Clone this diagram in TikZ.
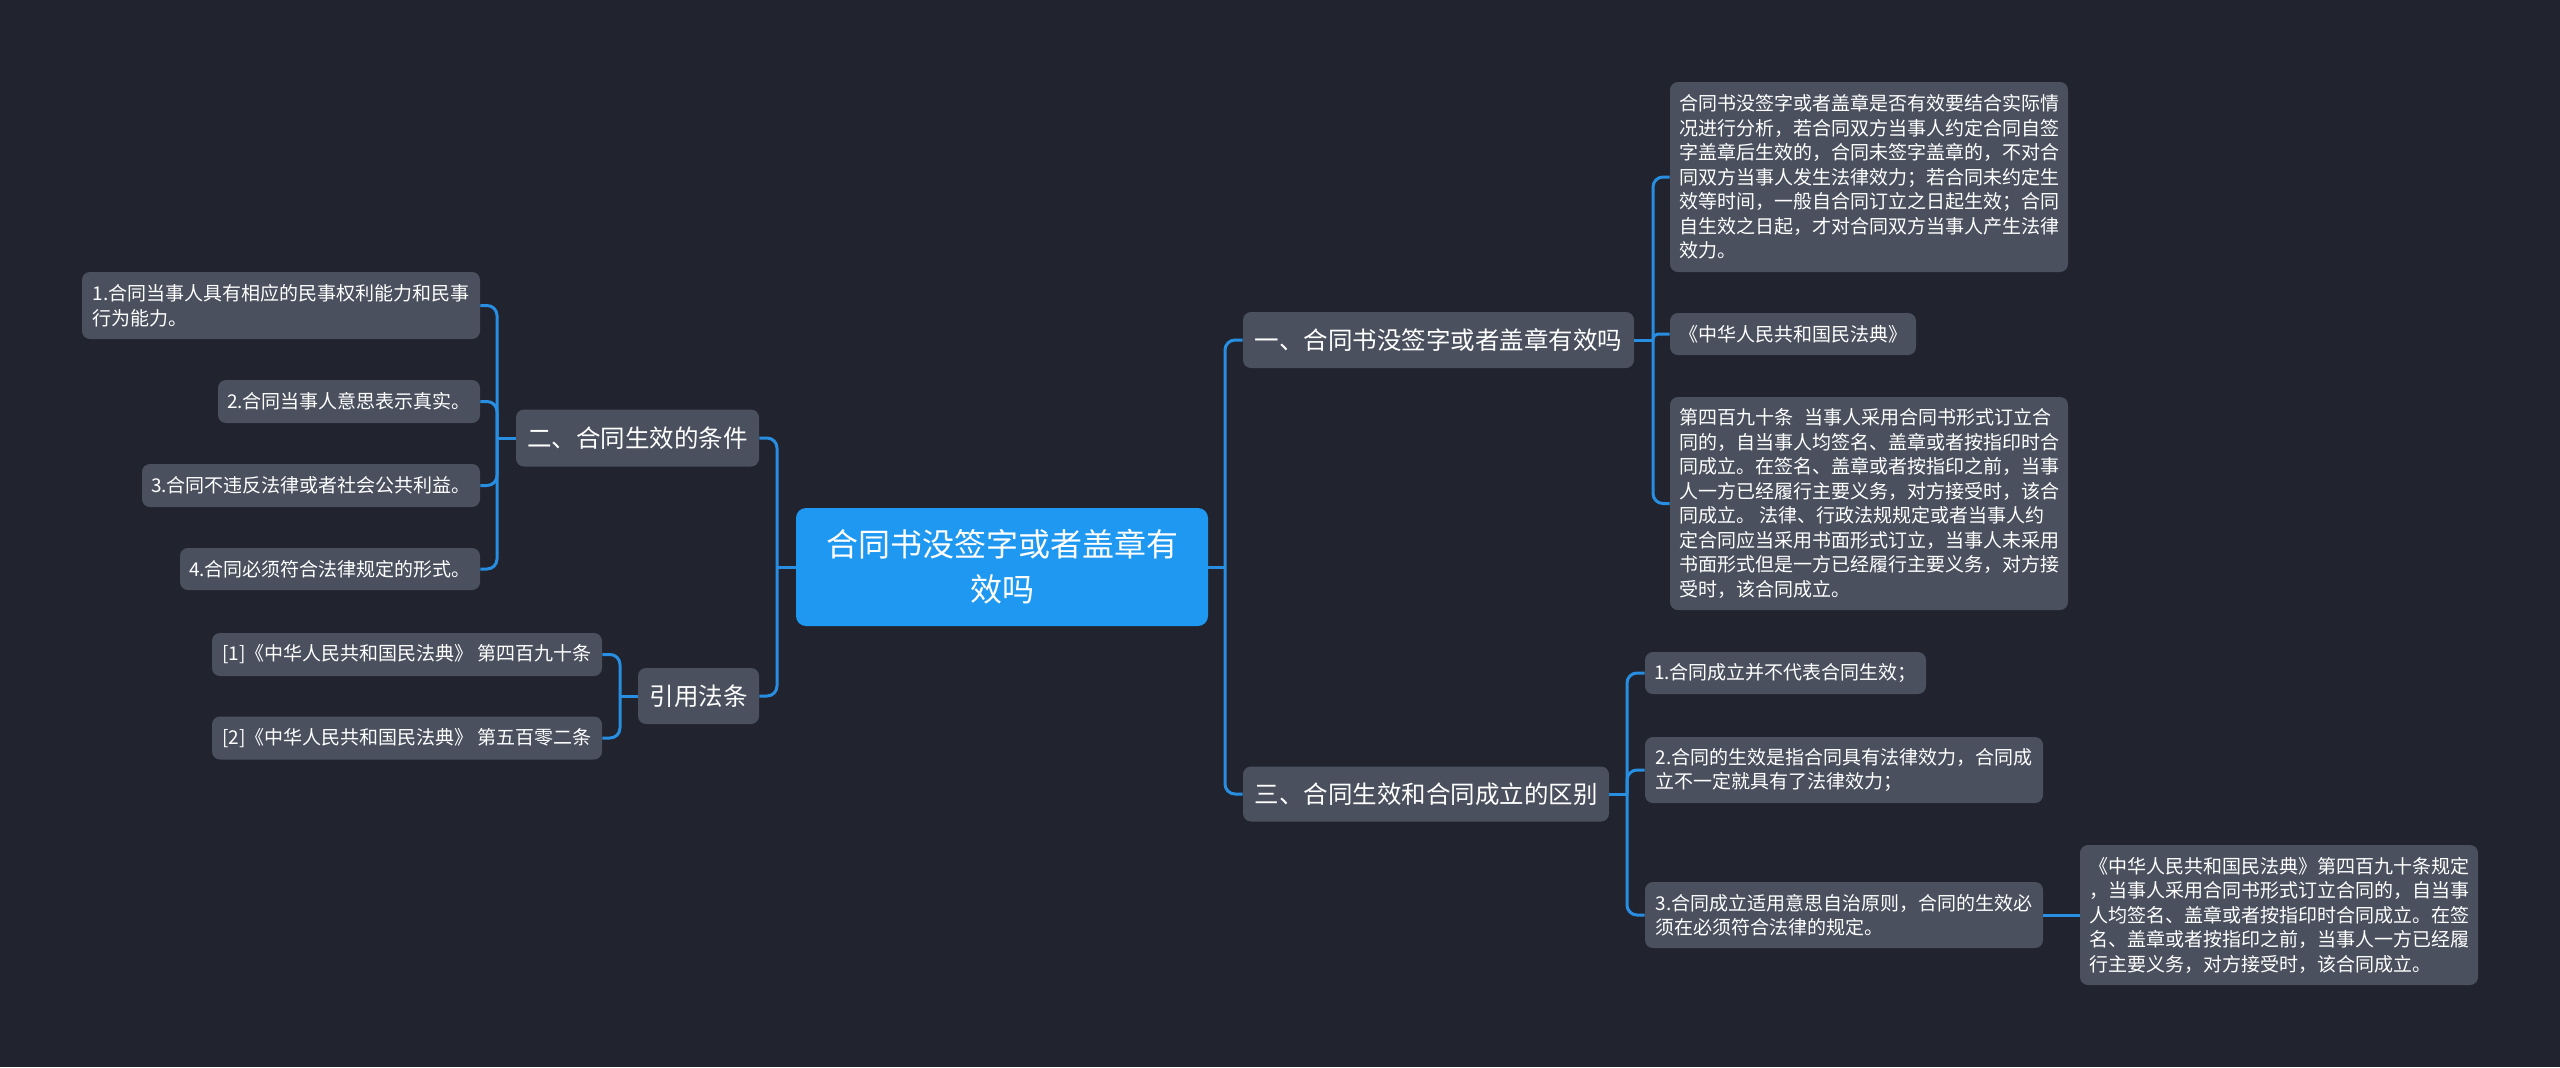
\documentclass[tikz,border=0pt]{standalone}
\usepackage{fontspec}
\setmainfont{Noto Sans CJK SC}
\definecolor{bgc}{RGB}{33,36,47}
\definecolor{nodeg}{RGB}{74,80,94}
\definecolor{mainblue}{RGB}{30,152,240}
\definecolor{linkc}{RGB}{40,142,226}
\tikzset{
  leaf/.style={fill=nodeg, rounded corners=4pt, text=white, align=left, inner xsep=4.5pt, inner ysep=0pt,
    font=\fontsize{9.5pt}{12.25pt}\selectfont},
  lvl/.style={fill=nodeg, rounded corners=4pt, text=white, align=center, inner xsep=5pt, inner ysep=0pt,
    font=\fontsize{12.25pt}{15pt}\selectfont},
  mainnode/.style={fill=mainblue, rounded corners=5pt, text=white, align=center, inner ysep=0pt,
    font=\fontsize{16pt}{22.5pt}\selectfont},
  link/.style={draw=linkc, line width=1.5pt},
  rlink/.style={draw=linkc, line width=1.5pt, rounded corners=5pt}
}
\begin{document}
\begin{tikzpicture}[x=0.5pt,y=-0.5pt]
\fill[bgc] (0,0) rectangle (2560,1067);
\useasboundingbox (0,0) rectangle (2560,1067);

% center
\node[mainnode, minimum width=206pt, minimum height=59pt] (c) at (1002,567) {合同书没签字或者盖章有\\效吗};

% level 1
\node[lvl, minimum width=195.5pt, minimum height=28pt] (n1) at (1438.5,340) {一、合同书没签字或者盖章有效吗};
\node[lvl, minimum width=183pt, minimum height=27.5pt] (n3) at (1426,794) {三、合同生效和合同成立的区别};
\node[lvl, minimum width=121.5pt, minimum height=28.5pt] (n2) at (637.5,438) {二、合同生效的条件};
\node[lvl, minimum width=60.5pt, minimum height=28pt] (n4) at (698.5,696) {引用法条};

% right leaves of n1
\node[leaf, minimum width=199pt, minimum height=95pt] (r1) at (1869,177) {合同书没签字或者盖章是否有效要结合实际情\\况进行分析，若合同双方当事人约定合同自签\\字盖章后生效的，合同未签字盖章的，不对合\\同双方当事人发生法律效力；若合同未约定生\\效等时间，一般自合同订立之日起生效；合同\\自生效之日起，才对合同双方当事人产生法律\\效力。};
\node[leaf, minimum width=123pt, minimum height=21pt] (r2) at (1793,334) {《中华人民共和国民法典》};
\node[leaf, minimum width=199pt, minimum height=106.5pt] (r3) at (1869,503.5) {第四百九十条\hspace{0.6em}当事人采用合同书形式订立合\\同的，自当事人均签名、盖章或者按指印时合\\同成立。在签名、盖章或者按指印之前，当事\\人一方已经履行主要义务，对方接受时，该合\\同成立。\ 法律、行政法规规定或者当事人约\\定合同应当采用书面形式订立，当事人未采用\\书面形式但是一方已经履行主要义务，对方接\\受时，该合同成立。};

% right leaves of n3
\node[leaf, minimum width=140.5pt, minimum height=21pt] (s1) at (1785.5,673) {1.合同成立并不代表合同生效；};
\node[leaf, minimum width=199pt, minimum height=33pt] (s2) at (1844,770) {2.合同的生效是指合同具有法律效力，合同成\\立不一定就具有了法律效力；};
\node[leaf, minimum width=199pt, minimum height=33pt] (s3) at (1844,915) {3.合同成立适用意思自治原则，合同的生效必\\须在必须符合法律的规定。};
\node[leaf, minimum width=199pt, minimum height=70pt] (f1) at (2279,915) {《中华人民共和国民法典》第四百九十条规定\\，当事人采用合同书形式订立合同的，自当事\\人均签名、盖章或者按指印时合同成立。在签\\名、盖章或者按指印之前，当事人一方已经履\\行主要义务，对方接受时，该合同成立。};

% left leaves of n2
\node[leaf, minimum width=199pt, minimum height=33.5pt] (l1) at (281,305.5) {1.合同当事人具有相应的民事权利能力和民事\\行为能力。};
\node[leaf, minimum width=131pt, minimum height=21.5pt] (l2) at (349,401.5) {2.合同当事人意思表示真实。};
\node[leaf, minimum width=169pt, minimum height=21.5pt] (l3) at (311,485.5) {3.合同不违反法律或者社会公共利益。};
\node[leaf, minimum width=150pt, minimum height=21pt] (l4) at (330,569) {4.合同必须符合法律规定的形式。};

% refs of n4
\node[leaf, minimum width=195pt, minimum height=21.5pt] (c1) at (407,654.5) {[1]《中华人民共和国民法典》 第四百九十条};
\node[leaf, minimum width=195pt, minimum height=21.5pt] (c2) at (407,738) {[2]《中华人民共和国民法典》 第五百零二条};

% junction coordinates
\coordinate (TR) at (1225,567);
\coordinate (TL) at (777,567);
\coordinate (T1) at (1653,340);
\coordinate (T3) at (1627,794);
\coordinate (T2) at (497,438);
\coordinate (T4) at (620,696);

% connectors
\draw[link] (c.east) -- (TR);
\draw[rlink] (TR) |- (n1.west);
\draw[rlink] (TR) |- (n3.west);
\draw[link] (c.west) -- (TL);
\draw[rlink] (TL) |- (n2.east);
\draw[rlink] (TL) |- (n4.east);

\draw[link] (n1.east) -- (T1);
\draw[rlink] (T1) |- (r1.west);
\draw[link, rounded corners=2.5pt] (T1) |- (r2.west);
\draw[rlink] (T1) |- (r3.west);

\draw[link] (n3.east) -- (T3);
\draw[rlink] (T3) |- (s1.west);
\draw[rlink] (T3) |- (s2.west);
\draw[rlink] (T3) |- (s3.west);
\draw[link] (s3.east) -- (f1.west);

\draw[link] (n2.west) -- (T2);
\draw[rlink] (T2) |- (l1.east);
\draw[rlink] (T2) |- (l2.east);
\draw[rlink] (T2) |- (l3.east);
\draw[rlink] (T2) |- (l4.east);

\draw[link] (n4.west) -- (T4);
\draw[rlink] (T4) |- (c1.east);
\draw[rlink] (T4) |- (c2.east);
\end{tikzpicture}
\end{document}
